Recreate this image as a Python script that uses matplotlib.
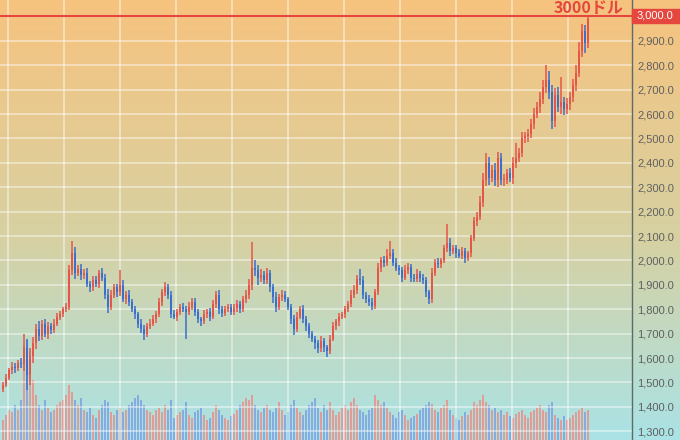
import matplotlib
matplotlib.use("Agg")
import matplotlib.pyplot as plt
import numpy as np
from matplotlib.patches import Rectangle

# ---------------- data (weekly gold price, USD/oz) ----------------
first_open = 1475
closes = [
    1490, 1520, 1550, 1565, 1560, 1580, 1575, 1640, 1530, 1610,
    1660, 1720, 1690, 1740, 1700, 1730, 1715, 1740, 1770, 1780,
    1800, 1810, 1960, 2030, 1950, 1965, 1940, 1950, 1905, 1890,
    1920, 1905, 1950, 1930, 1860, 1810, 1860, 1890, 1870, 1900,
    1840, 1860, 1830, 1800, 1780, 1740, 1720, 1700, 1730, 1740,
    1760, 1780, 1830, 1870, 1890, 1860, 1780, 1770, 1790, 1810,
    1800, 1790, 1810, 1830, 1790, 1760, 1750, 1780, 1790, 1770,
    1820, 1860, 1800, 1785, 1800, 1810, 1790, 1805, 1820, 1800,
    1840, 1860, 1900, 1970, 1960, 1930, 1940, 1920, 1950, 1890,
    1850, 1810, 1850, 1860, 1840, 1810, 1760, 1720, 1770, 1800,
    1760, 1730, 1700, 1680, 1660, 1640, 1670, 1645, 1630, 1680,
    1730, 1750, 1770, 1780, 1800, 1820, 1860, 1880, 1925, 1920,
    1860, 1840, 1830, 1815, 1870, 1970, 2000, 1990, 2020, 2030,
    1990, 1970, 1960, 1930, 1960, 1975, 1930, 1925, 1945, 1930,
    1920, 1870, 1840, 1950, 1990, 1985, 2000, 2050, 2070, 2040,
    2050, 2030, 2020, 2040, 2010, 2030, 2090, 2160, 2180, 2240,
    2330, 2400, 2340, 2370, 2330, 2420, 2330, 2330, 2360, 2340,
    2400, 2420, 2440, 2500, 2510, 2520, 2560, 2600, 2630, 2660,
    2710, 2740, 2690, 2570, 2680, 2630, 2650, 2620, 2640, 2670,
    2720, 2770, 2860, 2940, 2890, 2990,
]
upper_wick = [
    12, 15, 10, 18, 14, 12, 20, 60, 40, 30,
    25, 20, 30, 15, 22, 18, 12, 20, 15, 12,
    10, 15, 20, 50, 25, 18, 22, 15, 20, 12,
    18, 15, 12, 20, 15, 25, 18, 12, 15, 60,
    20, 15, 18, 12, 15, 10, 18, 15, 12, 20,
    15, 12, 18, 15, 20, 12, 15, 18, 12, 10,
    15, 12, 20, 15, 18, 12, 10, 15, 12, 15,
    18, 15, 20, 12, 15, 10, 12, 15, 18, 12,
    15, 20, 25, 105, 30, 20, 25, 15, 20, 12,
    15, 20, 12, 18, 15, 12, 10, 15, 20, 15,
    18, 12, 15, 10, 12, 15, 20, 12, 10, 15,
    18, 12, 15, 10, 12, 15, 18, 20, 15, 40,
    15, 12, 18, 15, 12, 20, 15, 18, 25, 50,
    15, 20, 12, 15, 20, 15, 12, 15, 18, 12,
    15, 12, 10, 20, 15, 18, 12, 15, 80, 20,
    15, 12, 18, 15, 12, 10, 15, 20, 18, 25,
    30, 40, 25, 20, 30, 25, 20, 25, 15, 20,
    25, 60, 20, 25, 15, 20, 18, 25, 20, 30,
    30, 60, 35, 30, 25, 30, 100, 20, 25, 20,
    25, 30, 35, 30, 25, 15,
]
lower_wick = [
    15, 10, 12, 15, 20, 12, 15, 30, 60, 40,
    30, 25, 20, 18, 15, 20, 15, 12, 10, 15,
    12, 10, 15, 20, 25, 15, 20, 18, 15, 20,
    15, 12, 18, 15, 20, 25, 15, 12, 18, 15,
    12, 18, 15, 12, 20, 15, 18, 25, 15, 12,
    10, 15, 12, 18, 15, 20, 15, 12, 18, 15,
    12, 110, 15, 12, 18, 15, 20, 12, 15, 18,
    12, 15, 20, 15, 12, 10, 15, 12, 18, 15,
    12, 15, 18, 20, 25, 30, 20, 15, 18, 20,
    25, 20, 15, 18, 12, 15, 20, 25, 15, 12,
    15, 20, 18, 15, 25, 20, 15, 20, 25, 15,
    12, 15, 18, 12, 15, 10, 12, 15, 18, 20,
    20, 15, 18, 20, 15, 12, 18, 15, 12, 15,
    12, 15, 18, 20, 12, 15, 18, 12, 15, 18,
    15, 20, 20, 15, 12, 18, 15, 12, 15, 20,
    15, 18, 12, 15, 20, 12, 15, 12, 18, 15,
    20, 25, 30, 20, 25, 30, 20, 25, 18, 20,
    25, 20, 18, 15, 20, 25, 18, 20, 15, 25,
    20, 25, 30, 30, 25, 20, 30, 25, 20, 25,
    20, 25, 20, 25, 40, 20,
]
volumes = [
    20, 25, 30, 28, 35, 30, 40, 95, 100, 90,
    60, 45, 35, 30, 40, 32, 28, 30, 35, 38,
    40, 45, 55, 48, 40, 35, 42, 30, 28, 32,
    25, 22, 30, 35, 40, 38, 28, 25, 30, 32,
    28, 30, 35, 38, 42, 45, 40, 35, 30, 28,
    25, 30, 32, 28, 35, 30, 40, 22, 25, 28,
    30, 38, 25, 22, 28, 30, 32, 25, 20, 22,
    28, 35, 30, 25, 22, 20, 24, 26, 30, 35,
    38, 42, 40, 45, 35, 30, 28, 32, 35, 30,
    28, 32, 38, 30, 25, 28, 35, 40, 32, 28,
    25, 30, 35, 38, 42, 32, 28, 35, 30, 38,
    30, 25, 28, 32, 35, 30, 38, 42, 35, 30,
    28, 25, 30, 32, 45, 40, 35, 38, 32, 28,
    25, 22, 28, 30, 25, 20, 22, 24, 26, 30,
    32, 35, 38, 36, 30, 28, 32, 35, 40, 30,
    25, 22, 20, 24, 28, 25, 30, 38, 35, 40,
    45, 38, 35, 30, 32, 28, 30, 25, 28, 24,
    22, 26, 28, 30, 25, 22, 28, 30, 32, 35,
    30, 28, 35, 38, 25, 22, 20, 24, 20, 22,
    25, 28, 30, 32, 28, 30,
]
price_ticks = [1300, 1400, 1500, 1600, 1700, 1800, 1900, 2000, 2100, 2200,
               2300, 2400, 2500, 2600, 2700, 2800, 2900, 3000]
level = 3000
level_label = "3000ドル"

# ---------------- derived ----------------
closes = np.array(closes, float)
opens = np.concatenate([[first_open], closes[:-1]])
highs = np.maximum(opens, closes) + np.array(upper_wick)
lows = np.minimum(opens, closes) - np.array(lower_wick)
idx = np.arange(len(closes))
up = closes >= opens

UP = "#E5564A"
DOWN = "#3B6FCC"

W, H = 680, 440
fig = plt.figure(figsize=(6.8, 4.4), dpi=100)

# gradient background
bg = fig.add_axes([0, 0, 1, 1], zorder=0)
stops = np.array([[247, 195, 126], [214, 209, 163], [170, 227, 230]]) / 255.0
t = np.linspace(0, 1, 256)
grad = np.stack([np.interp(t, [0, 0.55, 1], stops[:, k]) for k in range(3)], axis=1)
bg.imshow(grad[:, None, :], aspect="auto", extent=[0, 1, 0, 1], origin="upper")
bg.set_axis_off()

axw = 632 / W
xl = (-1, 209.67)

# volume axis
vax = fig.add_axes([0, 0, axw, 1], zorder=1)
vax.set_facecolor("none")
vol = np.array(volumes)
vax.bar(idx[up], vol[up], width=0.55, color="#E8928B", alpha=0.85)
vax.bar(idx[~up], vol[~up], width=0.55, color="#7FA2E2", alpha=0.85)
vax.set_xlim(*xl)
vax.set_ylim(0, 440)
vax.set_axis_off()

# price axis
ax = fig.add_axes([0, 0, axw, 1], zorder=2)
ax.set_facecolor("none")
ax.set_xlim(*xl)
ax.set_ylim(1264, 3067.6)

grid_x = [1.67, 20.33, 39.0, 57.67, 76.33, 95.0, 113.67, 132.33, 151.0, 169.67, 188.33]
ax.set_xticks(grid_x)
ax.set_xticklabels([])
ax.tick_params(axis="x", length=0)
ax.set_yticks(price_ticks)
ax.set_yticklabels(["" if v == level else f"{v:,.1f}" for v in price_ticks])
ax.yaxis.tick_right()
ax.tick_params(axis="y", length=0, pad=3.6, labelsize=8, labelcolor="#5f6060")
for lab in ax.get_yticklabels():
    lab.set_fontfamily("Liberation Sans")
ax.grid(True, color="white", alpha=0.5, lw=1.2)
ax.set_axisbelow(True)
for s in ["top", "left", "bottom"]:
    ax.spines[s].set_visible(False)
ax.spines["right"].set_color("#5d6b69")
ax.spines["right"].set_linewidth(1.0)

# candles
ax.vlines(idx[up], lows[up], highs[up], color=UP, lw=1.1, zorder=3)
ax.vlines(idx[~up], lows[~up], highs[~up], color=DOWN, lw=1.1, zorder=3)
body_lo = np.minimum(opens, closes)
body_h = np.maximum(np.abs(closes - opens), 4)
ax.bar(idx[up], body_h[up], bottom=body_lo[up], width=0.85, color=UP, zorder=4)
ax.bar(idx[~up], body_h[~up], bottom=body_lo[~up], width=0.85, color=DOWN, zorder=4)

# 3000 level
ax.axhline(level, color="#E5463E", lw=1.5, zorder=5)
fig.patches.append(Rectangle((632 / W, 1 - 23 / H), 48 / W, 14 / H,
                             transform=fig.transFigure, color="#E5463E", zorder=5))
fig.text(637 / W, 1 - 16 / H, f"{level:,.1f}", color="white", fontsize=8,
         family="Liberation Sans", va="center", ha="left", zorder=6)
fig.text(623 / W, 1 - 13 / H, level_label, color="#E5463E", fontsize=11.5,
         fontweight="bold", family=["Noto Sans CJK JP", "DejaVu Sans"],
         ha="right", va="baseline", zorder=6)

fig.savefig("out.png", dpi=100)
